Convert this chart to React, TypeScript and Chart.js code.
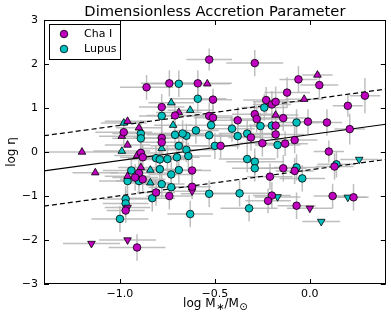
import { useEffect, useRef } from "react";
import { Chart, registerables } from "chart.js";
Chart.register(...registerables);

// axis ticks
const xTicks = [-1.0, -0.5, 0.0];
const yTicks = [-3, -2, -1, 0, 1, 2, 3];

// fit lines (endpoints)
const fitX = [-1.4, 0.4];
const fitY = [-0.43, 0.63];
const upperY = [0.37, 1.43];
const lowerY = [-1.23, -0.17];

// [log M, log eta, xErr, yErr]
const chaCircles = [
  [-0.86, 1.47, 0.14, 0.28], [-0.78, 1.02, 0.12, 0.3], [-0.98, 0.45, 0.15, 0.3], [-0.89, -0.02, 0.12, 0.25],
  [-0.78, 0.32, 0.15, 0.3], [-0.78, 0.22, 0.12, 0.28], [-0.74, 1.56, 0.15, 0.3], [-0.59, 1.56, 0.18, 0.3],
  [-0.53, 2.1, 0.12, 0.25], [-0.71, 0.83, 0.15, 0.3], [-0.53, 0.82, 0.12, 0.3], [-0.29, 2.02, 0.15, 0.3],
  [-0.51, 1.19, 0.1, 0.25], [-0.51, 0.78, 0.1, 0.28], [-0.38, 0.72, 0.12, 0.3], [-0.29, 0.86, 0.12, 0.28],
  [-0.28, 0.75, 0.14, 0.3], [-0.23, 1.18, 0.12, 0.3], [-0.2, 1.08, 0.1, 0.3], [-0.18, 1.14, 0.12, 0.35],
  [-0.18, 0.6, 0.12, 0.3], [-0.47, 0.14, 0.1, 0.28], [-0.25, 0.2, 0.12, 0.3], [-0.06, 1.65, 0.1, 0.3],
  [0.05, 1.52, 0.1, 0.3], [-0.12, 1.35, 0.12, 0.35], [0.29, 1.28, 0.08, 0.4], [0.2, 1.05, 0.08, 0.25],
  [-0.14, 0.77, 0.14, 0.3], [-0.01, 0.69, 0.08, 0.28], [0.09, 0.67, 0.08, 0.3], [0.21, 0.52, 0.08, 0.35],
  [-0.18, 0.4, 0.15, 0.3], [-0.31, 0.33, 0.12, 0.3], [-0.13, 0.19, 0.12, 0.28], [-0.08, 0.27, 0.12, 0.3],
  [0.1, 0.01, 0.08, 0.25], [-0.88, -0.12, 0.12, 0.28], [-0.9, -0.48, 0.15, 0.3], [-0.92, -0.58, 0.12, 0.3],
  [-0.88, -0.62, 0.12, 0.28], [-0.81, -0.92, 0.1, 0.3], [-0.97, -1.33, 0.1, 0.28], [-0.91, -2.17, 0.15, 0.3],
  [-0.62, -0.42, 0.1, 0.3], [-0.62, -0.79, 0.1, 0.28], [-0.74, -1.0, 0.12, 0.3], [-0.21, -0.56, 0.12, 0.3],
  [-0.2, -0.99, 0.1, 0.3], [-0.22, -1.11, 0.12, 0.28], [-0.14, -0.37, 0.12, 0.3], [-0.08, -0.43, 0.1, 0.3],
  [0.13, -0.33, 0.1, 0.3], [-0.07, -1.22, 0.1, 0.3], [0.12, -1.0, 0.1, 0.28], [0.23, -1.03, 0.08, 0.3],
];
const chaUp = [
  [-0.54, 1.55, 0.12, 0], [-0.96, 0.7, 0.12, 0], [-0.9, 0.55, 0.12, 0], [-0.99, 0.36, 0.12, 0],
  [-0.96, 0.16, 0.12, 0], [-1.2, 0.0, 0.2, 0], [-0.69, 0.9, 0.12, 0], [0.04, 1.75, 0.08, 0],
  [-0.03, 1.2, 0.1, 0], [-0.18, 0.84, 0.12, 0], [-0.91, -0.08, 0.12, 0], [-1.13, -0.47, 0.12, 0],
  [-0.89, -0.35, 0.12, 0], [-0.96, -0.55, 0.12, 0],
];
const chaDown = [
  [-0.96, -1.26, 0.12, 0], [-1.15, -2.08, 0.15, 0], [-0.96, -2.0, 0.15, 0], [-0.62, -0.89, 0.1, 0],
  [0.0, -1.28, 0.12, 0],
];
const lupCircles = [
  [-0.78, 0.82, 0.12, 0.3], [-0.89, 0.42, 0.15, 0.3], [-0.89, 0.31, 0.15, 0.28], [-0.69, 1.55, 0.15, 0.3],
  [-0.59, 1.21, 0.15, 0.3], [-0.6, 0.49, 0.12, 0.3], [-0.71, 0.39, 0.15, 0.3], [-0.65, 0.37, 0.15, 0.28],
  [-0.67, 0.42, 0.12, 0.3], [-0.69, 0.14, 0.15, 0.3], [-0.65, 0.05, 0.15, 0.28], [-0.53, 0.38, 0.12, 0.3],
  [-0.52, 0.61, 0.12, 0.3], [-0.41, 0.53, 0.12, 0.3], [-0.38, 0.36, 0.12, 0.3], [-0.33, 0.42, 0.15, 0.3],
  [-0.26, 0.59, 0.12, 0.3], [-0.24, 1.01, 0.12, 0.3], [-0.2, 0.6, 0.12, 0.3], [-0.5, 0.14, 0.12, 0.3],
  [-0.17, 0.16, 0.12, 0.3], [-0.07, 0.67, 0.12, 0.3], [-0.81, -0.14, 0.15, 0.28], [-0.79, -0.17, 0.15, 0.3],
  [-0.94, -0.42, 0.15, 0.3], [-0.96, -0.66, 0.15, 0.3], [-0.9, -0.66, 0.12, 0.3], [-0.78, -0.73, 0.12, 0.3],
  [-0.83, -1.05, 0.12, 0.3], [-0.97, -1.07, 0.12, 0.3], [-0.97, -1.17, 0.12, 0.3], [-1.0, -1.52, 0.15, 0.3],
  [-0.79, -0.39, 0.12, 0.3], [-0.75, -0.16, 0.12, 0.3], [-0.7, -0.12, 0.12, 0.3], [-0.64, -0.09, 0.12, 0.3],
  [-0.69, -0.41, 0.12, 0.3], [-0.73, -0.51, 0.12, 0.3], [-0.73, -0.8, 0.12, 0.3], [-0.53, -0.95, 0.15, 0.3],
  [-0.63, -1.41, 0.12, 0.3], [-0.37, -0.94, 0.15, 0.3], [-0.32, -1.28, 0.15, 0.3], [-0.33, -0.16, 0.15, 0.3],
  [-0.29, -0.22, 0.15, 0.3], [-0.29, -0.37, 0.12, 0.3], [-0.07, -0.35, 0.12, 0.3], [-0.04, -0.6, 0.12, 0.3],
  [0.14, -0.28, 0.1, 0.3],
];
const lupUp = [
  [-0.73, 1.12, 0.12, 0], [-0.63, 0.95, 0.12, 0], [-0.72, 0.61, 0.1, 0], [-0.98, 0.66, 0.12, 0],
  [-0.99, 0.02, 0.15, 0], [-0.78, 0.08, 0.12, 0], [-0.84, -0.41, 0.1, 0], [-0.84, -0.7, 0.1, 0],
];
const lupDown = [
  [-0.17, -1.02, 0.12, 0], [0.26, -0.17, 0.1, 0], [0.2, -1.03, 0.1, 0], [0.06, -1.58, 0.1, 0],
];

const MAG = "#bf00bf";
const CYN = "#00bfbf";
const FONT = "'DejaVu Sans', sans-serif";

const fmtX = (v: number) => (v < 0 ? "\u2212" + Math.abs(v).toFixed(1) : v.toFixed(1));
const fmtY = (v: number) => (v < 0 ? "\u2212" + Math.abs(v).toFixed(0) : v.toFixed(0));

const errorBarPlugin = {
  id: "errorBars",
  beforeDatasetsDraw(chart: any) {
    const { ctx, chartArea, scales } = chart;
    ctx.save();
    ctx.beginPath();
    ctx.rect(chartArea.left, chartArea.top, chartArea.right - chartArea.left, chartArea.bottom - chartArea.top);
    ctx.clip();
    ctx.strokeStyle = "rgba(180,180,180,0.85)";
    ctx.lineWidth = 1.5;
    chart.data.datasets.forEach((ds: any) => {
      if (!ds.errs) return;
      ds.errs.forEach((p: number[]) => {
        const [x, y, xe, ye] = p;
        const px = scales.x.getPixelForValue(x);
        const py = scales.y.getPixelForValue(y);
        ctx.beginPath();
        if (xe > 0) {
          ctx.moveTo(scales.x.getPixelForValue(x - xe), py);
          ctx.lineTo(scales.x.getPixelForValue(x + xe), py);
        }
        if (ye > 0) {
          ctx.moveTo(px, scales.y.getPixelForValue(y - ye));
          ctx.lineTo(px, scales.y.getPixelForValue(y + ye));
        }
        ctx.stroke();
      });
    });
    ctx.restore();
  },
};

const framePlugin = {
  id: "frame",
  afterDraw(chart: any) {
    const { ctx, chartArea, scales } = chart;
    const { left, right, top, bottom } = chartArea;
    ctx.save();
    ctx.strokeStyle = "#000";
    ctx.lineWidth = 1;
    ctx.strokeRect(Math.round(left) + 0.5, Math.round(top) + 0.5, Math.round(right - left) - 1, Math.round(bottom - top) - 1);
    const tl = 5;
    ctx.beginPath();
    xTicks.forEach((v) => {
      const x = Math.round(scales.x.getPixelForValue(v)) + 0.5;
      ctx.moveTo(x, bottom);
      ctx.lineTo(x, bottom - tl);
      ctx.moveTo(x, top);
      ctx.lineTo(x, top + tl);
    });
    yTicks.forEach((v) => {
      const y = Math.round(scales.y.getPixelForValue(v)) + 0.5;
      ctx.moveTo(left, y);
      ctx.lineTo(left + tl, y);
      ctx.moveTo(right, y);
      ctx.lineTo(right - tl, y);
    });
    ctx.stroke();

    // title
    ctx.fillStyle = "#000";
    ctx.font = `14.7px ${FONT}`;
    ctx.textAlign = "center";
    ctx.textBaseline = "alphabetic";
    ctx.fillText("Dimensionless Accretion Parameter", (left + right) / 2, 16);

    // y title
    ctx.save();
    ctx.translate(12, (top + bottom) / 2);
    ctx.rotate(-Math.PI / 2);
    ctx.font = `12px ${FONT}`;
    ctx.textAlign = "center";
    ctx.textBaseline = "middle";
    ctx.fillText("log \u03b7", 0, 0);
    ctx.restore();

    // x title with subscripts
    const parts: [string, boolean][] = [["log M", false], ["\u2217", true], ["/M", false], ["\u2299", true]];
    const nf = `12px ${FONT}`;
    const sf = `10px ${FONT}`;
    let total = 0;
    parts.forEach(([t, s]) => {
      ctx.font = s ? sf : nf;
      total += ctx.measureText(t).width;
    });
    let cx = (left + right) / 2 - total / 2;
    const base = 307;
    ctx.textAlign = "left";
    ctx.textBaseline = "alphabetic";
    parts.forEach(([t, s]) => {
      ctx.font = s ? sf : nf;
      ctx.fillText(t, cx, s ? base + 3 : base);
      cx += ctx.measureText(t).width + (s ? 0 : 0.5);
    });

    // legend
    const lx = 49, ly = 24, lw = 71, lh = 35;
    ctx.fillStyle = "#fff";
    ctx.fillRect(lx, ly, lw, lh);
    ctx.strokeStyle = "#000";
    ctx.strokeRect(lx + 0.5, ly + 0.5, lw, lh);
    const items: [string, string, number][] = [["Cha I", MAG, 34], ["Lupus", CYN, 49]];
    items.forEach(([label, col, yy]) => {
      ctx.beginPath();
      ctx.arc(64, yy, 3.8, 0, Math.PI * 2);
      ctx.fillStyle = col;
      ctx.fill();
      ctx.lineWidth = 0.8;
      ctx.strokeStyle = "#000";
      ctx.stroke();
      ctx.fillStyle = "#000";
      ctx.font = `11px ${FONT}`;
      ctx.textAlign = "left";
      ctx.textBaseline = "middle";
      ctx.fillText(label, 84, yy);
    });
    ctx.restore();
  },
};

const pts = (arr: number[][]) => arr.map(([x, y]) => ({ x, y }));

export default function App() {
  const ref = useRef<HTMLCanvasElement>(null);
  useEffect(() => {
    document.body.style.margin = "0";
    const mk = (label: string, arr: number[][], color: string, style: string, rot: number, order: number) => ({
      label,
      data: pts(arr),
      errs: arr,
      backgroundColor: color,
      borderColor: "#000",
      borderWidth: 0.8,
      pointStyle: style,
      pointRadius: style === "triangle" ? 4.4 : 3.8,
      pointRotation: rot,
      order,
    });
    const line = (ys: number[], dash: number[]) => ({
      data: fitX.map((x, i) => ({ x, y: ys[i] })),
      showLine: true,
      borderColor: "#000",
      borderWidth: 1.2,
      borderDash: dash,
      pointRadius: 0,
      order: 10,
    });
    const chart = new Chart(ref.current!, {
      type: "scatter",
      data: {
        datasets: [
          line(fitY, []) as any,
          line(upperY, [5, 3]) as any,
          line(lowerY, [5, 3]) as any,
          mk("Lupus", lupCircles, CYN, "circle", 0, 3),
          mk("Lupus up", lupUp, CYN, "triangle", 0, 3),
          mk("Lupus down", lupDown, CYN, "triangle", 180, 3),
          mk("Cha I", chaCircles, MAG, "circle", 0, 2),
          mk("Cha I up", chaUp, MAG, "triangle", 0, 2),
          mk("Cha I down", chaDown, MAG, "triangle", 180, 2),
        ],
      },
      options: {
        responsive: false,
        animation: false,
        layout: { padding: { left: 0, right: 5, top: 20, bottom: 0 } },
        plugins: { legend: { display: false }, tooltip: { enabled: false }, title: { display: false } },
        scales: {
          x: {
            type: "linear",
            min: -1.4,
            max: 0.4,
            afterBuildTicks: (s: any) => {
              s.ticks = xTicks.map((v) => ({ value: v }));
            },
            afterFit: (s: any) => {
              s.height = 41;
            },
            grid: { display: false, drawTicks: false },
            border: { display: false },
            ticks: {
              padding: 4,
              color: "#000",
              autoSkip: false,
              maxRotation: 0,
              font: { family: FONT, size: 11 },
              callback: (v: any) => fmtX(Number(v)),
            },
          },
          y: {
            type: "linear",
            min: -3,
            max: 3,
            afterBuildTicks: (s: any) => {
              s.ticks = yTicks.map((v) => ({ value: v }));
            },
            afterFit: (s: any) => {
              s.width = 44;
            },
            grid: { display: false, drawTicks: false },
            border: { display: false },
            ticks: {
              padding: 6,
              color: "#000",
              autoSkip: false,
              font: { family: FONT, size: 11 },
              callback: (v: any) => fmtY(Number(v)),
            },
          },
        },
      },
      plugins: [errorBarPlugin, framePlugin],
    });
    return () => chart.destroy();
  }, []);
  return (
    <div style={{ width: 391, height: 325 }}>
      <canvas ref={ref} width={391} height={325} style={{ display: "block" }} />
    </div>
  );
}
